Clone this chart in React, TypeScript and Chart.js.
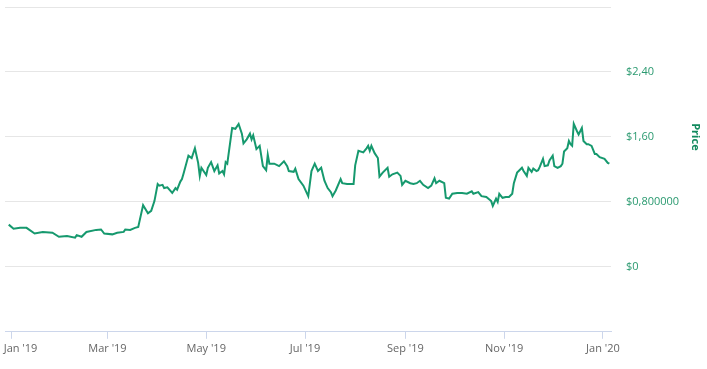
import React, { useEffect, useRef } from "react";
import { Chart, registerables } from "chart.js";

Chart.register(...registerables);

// Days counted from 1 Jan 2019
const days: number[] = [
  -2, 1, 5, 9, 14, 19, 25, 29, 34, 39, 40, 43, 46, 52, 55, 57, 62, 65, 69, 70,
  73, 76, 78, 81, 84, 86, 88, 90, 91, 93, 94, 96, 99, 101, 102, 104, 105, 106, 109, 111,
  113, 115, 116, 117, 120, 121, 123, 125, 127, 128, 130, 131, 132, 133, 136, 138, 140, 142, 143, 145,
  147, 148, 149, 151, 153, 155, 157, 158, 159, 162, 165, 168, 170, 171, 174, 175, 177, 180, 183, 185,
  187, 189, 191, 193, 195, 197, 198, 200, 203, 204, 207, 211, 212, 214, 217, 219, 220, 221, 222, 224,
  226, 227, 229, 232, 233, 235, 238, 240, 241, 243, 246, 248, 250, 252, 254, 257, 259, 261, 262, 264,
  267, 268, 270, 272, 275, 278, 281, 284, 285, 288, 290, 293, 296, 297, 299, 300, 301, 303, 305, 307,
  309, 310, 312, 313, 315, 316, 318, 319, 321, 322, 324, 325, 326, 328, 329, 331, 332, 334, 335, 337,
  339, 340, 341, 343, 344, 345, 346, 347, 349, 350, 352, 353, 355, 356, 358, 360, 361, 363, 366, 368,
  369,
];

const prices: number[] = [
  0.52, 0.47, 0.48, 0.48, 0.41, 0.43, 0.42, 0.37, 0.38, 0.36, 0.39, 0.37, 0.43, 0.455, 0.46, 0.41, 0.40, 0.42, 0.43, 0.46,
  0.455, 0.48, 0.49, 0.76, 0.66, 0.69, 0.81, 1.02, 1.0, 1.01, 0.97, 0.98, 0.91, 0.97, 0.95, 1.05, 1.08, 1.15, 1.37, 1.34,
  1.46, 1.28, 1.12, 1.22, 1.13, 1.22, 1.29, 1.18, 1.25, 1.15, 1.18, 1.14, 1.29, 1.27, 1.71, 1.70, 1.76, 1.64, 1.52, 1.57,
  1.64, 1.57, 1.62, 1.45, 1.49, 1.24, 1.19, 1.38, 1.27, 1.27, 1.24, 1.30, 1.24, 1.18, 1.17, 1.21, 1.08, 1.0, 0.87, 1.18,
  1.27, 1.18, 1.22, 1.06, 0.97, 0.92, 0.87, 0.94, 1.08, 1.03, 1.02, 1.02, 1.25, 1.43, 1.41, 1.46, 1.49, 1.43, 1.49, 1.40,
  1.34, 1.11, 1.16, 1.22, 1.11, 1.14, 1.16, 1.12, 1.01, 1.06, 1.03, 1.02, 1.03, 1.06, 1.01, 0.97, 1.0, 1.09, 1.03, 1.06,
  1.03, 0.85, 0.84, 0.90, 0.91, 0.91, 0.90, 0.93, 0.90, 0.92, 0.87, 0.86, 0.81, 0.75, 0.84, 0.80, 0.90, 0.85, 0.86, 0.86,
  0.90, 1.03, 1.16, 1.18, 1.22, 1.18, 1.12, 1.22, 1.17, 1.21, 1.18, 1.19, 1.23, 1.33, 1.24, 1.25, 1.31, 1.37, 1.24, 1.22,
  1.24, 1.27, 1.42, 1.46, 1.55, 1.51, 1.49, 1.76, 1.67, 1.63, 1.71, 1.55, 1.51, 1.51, 1.49, 1.39, 1.39, 1.35, 1.33, 1.28,
  1.27,
];

const xTickDays: number[] = [0, 59, 120, 181, 243, 304, 365];
const xTickLabels: string[] = ["Jan '19", "Mar '19", "May '19", "Jul '19", "Sep '19", "Nov '19", "Jan '20"];

const yTickValues: number[] = [-0.8, 0, 0.8, 1.6, 2.4, 3.2];
const yTickLabels: string[] = ["", "$0", "$0,800000", "$1,60", "$2,40", ""];

const axisTitle = "Price";

export default function App() {
  const ref = useRef<HTMLCanvasElement | null>(null);

  useEffect(() => {
    const canvas = ref.current;
    if (!canvas) return;

    const titlePlugin = {
      id: "sideTitle",
      afterDraw(chart: any) {
        const ctx = chart.ctx;
        const y = chart.scales.y;
        ctx.save();
        ctx.translate(695, y.getPixelForValue(1.6));
        ctx.rotate(Math.PI / 2);
        ctx.font = "bold 11px 'Open Sans'";
        ctx.fillStyle = "#138a5e";
        ctx.textAlign = "center";
        ctx.textBaseline = "middle";
        ctx.fillText(axisTitle, 0, 0);
        ctx.restore();
      },
    };

    const chart = new Chart(canvas, {
      type: "line",
      data: {
        datasets: [
          {
            data: days.map((d, i) => ({ x: d, y: prices[i] })),
            borderColor: "#16996e",
            borderWidth: 2,
            pointRadius: 0,
            tension: 0,
            fill: false,
          },
        ],
      },
      options: {
        animation: false,
        responsive: false,
        layout: { padding: { left: 5, top: 7, right: 0, bottom: 11 } },
        plugins: { legend: { display: false }, tooltip: { enabled: false } },
        scales: {
          x: {
            type: "linear",
            min: -4.3,
            max: 370,
            afterBuildTicks: (scale: any) => {
              scale.ticks = xTickDays.map((v) => ({ value: v }));
            },
            afterFit: (scale: any) => {
              scale.paddingLeft = 0;
              scale.paddingRight = 0;
            },
            ticks: {
              autoSkip: false,
              maxRotation: 0,
              padding: 3,
              color: "#666666",
              font: { family: "'Open Sans'", size: 11 },
              callback: (v: any) => {
                const i = xTickDays.indexOf(Number(v));
                if (i < 0) return "";
                return i === 0 ? "      " + xTickLabels[i] : xTickLabels[i];
              },
            },
            grid: { display: true, drawOnChartArea: false, drawTicks: true, tickLength: 7, color: "#ccd6eb" },
            border: { display: true, color: "#ccd6eb" },
          },
          y: {
            position: "right",
            min: -0.8,
            max: 3.2,
            afterBuildTicks: (scale: any) => {
              scale.ticks = yTickValues.map((v) => ({ value: v }));
            },
            afterFit: (scale: any) => {
              scale.width = 96;
              scale.paddingTop = 0;
              scale.paddingBottom = 0;
            },
            ticks: {
              padding: 15,
              color: "#2b9a70",
              font: { family: "'Open Sans'", size: 11 },
              callback: (v: any) => {
                const i = yTickValues.findIndex((t) => Math.abs(t - Number(v)) < 1e-6);
                return i >= 0 ? yTickLabels[i] : "";
              },
            },
            grid: { color: "#e6e6e6", drawTicks: false },
            border: { display: false },
          },
        },
      },
      plugins: [titlePlugin],
    });

    return () => chart.destroy();
  }, []);

  return (
    <div style={{ position: "fixed", left: 0, top: 0, width: 707, height: 369, background: "#fff" }}>
      <canvas ref={ref} width={707} height={369} />
    </div>
  );
}
